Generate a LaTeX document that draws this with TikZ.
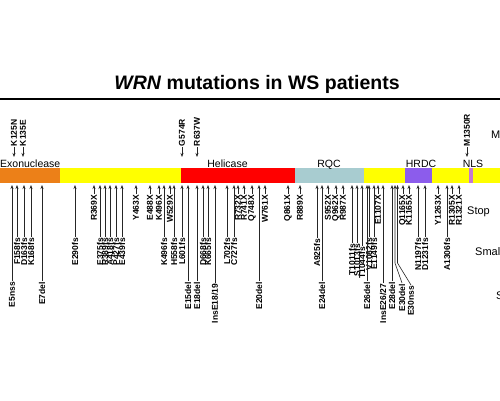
\documentclass[tikz,border=0pt]{standalone}
\usepackage{fontspec}
\setmainfont{Liberation Sans}
\usetikzlibrary{arrows.meta}
\definecolor{exo}{RGB}{236,128,24}
\definecolor{yel}{RGB}{255,255,0}
\definecolor{hel}{RGB}{255,0,0}
\definecolor{rqc}{RGB}{168,204,208}
\definecolor{hrdc}{RGB}{140,92,236}
\definecolor{nls}{RGB}{196,120,210}
\begin{document}
\begin{tikzpicture}[x=1pt,y=-1pt,
  mut/.style={rotate=90,inner sep=0pt,outer sep=1pt,font=\fontsize{8.5}{8.5}\selectfont\bfseries},
  arr/.style={-{Stealth[length=4pt,width=3pt]},line width=0.6pt,black!85},
  dom/.style={font=\fontsize{10.5}{10.5}\selectfont,anchor=base,inner sep=0pt},
  cat/.style={font=\fontsize{11}{11}\selectfont,anchor=west,inner sep=0pt}]
\clip (0,0) rectangle (500,400);
\fill[white] (0,0) rectangle (500,400);
% title
\node[anchor=base,inner sep=0pt,font=\fontsize{19.5}{20}\selectfont\bfseries] (title) at (257,89) {\textit{WRN} mutations in WS patients};
\coordinate (rl) at (0,99); \coordinate (rr) at (500,99);
\draw[line width=1.4pt] (rl) -- (rr);
% bar
\fill[exo] (0,168) rectangle (60,183);
\fill[yel] (60,168) rectangle (181,183);
\fill[hel] (181,168) rectangle (295,183);
\fill[rqc] (295,168) rectangle (364,183);
\fill[yel] (364,168) rectangle (405,183);
\fill[hrdc] (405,168) rectangle (432,183);
\fill[yel] (432,168) rectangle (469,183);
\fill[nls] (469,168) rectangle (473,183);
\fill[yel] (473,168) rectangle (500,183);
% domain labels
\node[dom,anchor=base east] (dexo) at (60.5,167) {Exonuclease};
\node[dom] (dhel) at (227.5,167) {Helicase};
\node[dom] (drqc) at (329,167) {RQC};
\node[dom] (dhrdc) at (421,167) {HRDC};
\node[dom] (dnls) at (473,167) {NLS};
% missense (above)
\foreach \x/\t [count=\i] in {14/K125N,23/K135E,182/G574R,197/R637W,467/M1350R} {
  \node[mut,anchor=west] (m\i) at (\x,147) {\t};
  \coordinate (mt\i) at (\x,157);
  \draw[arr] (m\i.west) -- (mt\i);
}
% row A: stop codons
\foreach \x/\t [count=\i] in {94/R369X,136/Y463X,150/E488X,159/K496X,170/W529X,238/R732X,244/R741X,252/Q748X,265/W761X,288/Q861X,300/R889X,328/S952X,336/Q962X,343/R987X,378/E1107X,403/Q1165X,409/K1165X,438/Y1263X,452/R1305X,459/R1321X} {
  \node[mut,anchor=east] (a\i) at (\x,194) {\t};
  \coordinate (at\i) at (\x,185);
  \draw[arr] (a\i.east) -- (at\i);
}
% row B: small insertions / deletions
\foreach \x/\t/\y [count=\i] in {17/F158fs/237,24/D163fs/237,31/K168fs/237,75/E290fs/237,100/E375fs/237,105/R389fs/237,110/A418fs/237,116/P427fs/237,122/E439fs/237,164/K496fs/237,174/H558fs/237,182/L601fs/237,203/D668fs/237,208/K665fs/237,227/L702fs/237,234/C727fs/237,317/A925fs/238,352/T1011fs/243,357/S1013fs/243,362/T1044fs/246,369/V1082fs/237,374/E1149fs/237,418/N1197fs/237,425/D1231fs/237,447/A1306fs/237} {
  \node[mut,anchor=east] (b\i) at (\x,\y) {\t};
  \coordinate (bt\i) at (\x,185);
  \draw[arr] (b\i.east) -- (bt\i);
}
% row C: splicing / exon deletions
\foreach \x/\t [count=\i] in {12/E5nss,42/E7del,188/E15del,197/E18del,259/E20del,322/E24del,367/E26del,392/E28del} {
  \node[mut,anchor=east] (c\i) at (\x,281) {\t};
  \coordinate (ct\i) at (\x,185);
  \draw[arr] (c\i.east) -- (ct\i);
}
\node[mut,anchor=east] (ins1) at (215,283) {InsE18/19};
\coordinate (inst1) at (215,185);
\draw[arr] (ins1.east) -- (inst1);
\node[mut,anchor=east] (ins2) at (383,283) {InsE26/27};
\coordinate (inst2) at (383,185);
\draw[arr] (ins2.east) -- (inst2);
\node[mut,anchor=east] (e30d) at (402,283) {E30del};
\coordinate (e30dk) at (395,263); \coordinate (e30dt) at (395,185);
\draw[arr] (e30d.east) -- (e30dk) -- (e30dt);
\node[mut,anchor=east] (e30n) at (411,285) {E30nss};
\coordinate (e30nk) at (397.5,263); \coordinate (e30nt) at (397.5,185);
\draw[arr] (e30n.east) -- (e30nk) -- (e30nt);
% category labels (cut at the right edge)
\node[cat] (kM) at (491,135) {M};
\node[cat] (kStop) at (467,212) {Stop};
\node[cat] (kSmal) at (475,252) {Smal};
\node[cat] (kS) at (496,296) {S};
\end{tikzpicture}
\end{document}
